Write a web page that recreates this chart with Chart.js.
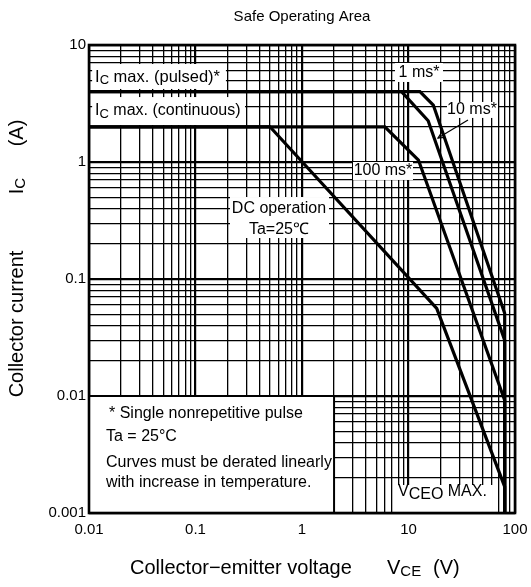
<!DOCTYPE html>
<html><head><meta charset="utf-8">
<script src="https://cdn.jsdelivr.net/npm/chart.js@4"></script>
<style>html,body{margin:0;padding:0;background:#fff;}canvas{display:block;}</style>
</head><body>
<canvas id="c" width="531" height="587"></canvas>
<script>
// ---- axis ticks ----
const voltageMajors = [0.01, 0.1, 1, 10, 100];
const voltageTickLabels = ['0.01', '0.1', '1', '10', '100'];
const currentMajors = [0.001, 0.01, 0.1, 1, 10];
const currentTickLabels = ['0.001', '0.01', '0.1', '1', '10'];
const minorMultipliers = [2, 3, 4, 5, 6, 7, 8, 9];

// ---- SOA curves (V, A) ----
const dcVoltage    = [0.01, 0.5, 18.4, 80, 80];
const dcCurrent    = [2, 2, 0.056, 0.00168, 0.001];
const ms100Voltage = [0.01, 6.0, 12.4, 80, 80];
const ms100Current = [2, 2, 1.04, 0.0092, 0.001];
const ms10Voltage  = [0.01, 8.6, 15.3, 80, 80];
const ms10Current  = [4, 4, 2.25, 0.030, 0.001];
const ms1Voltage   = [0.01, 12.8, 17.1, 80, 80];
const ms1Current   = [4, 4, 3.07, 0.051, 0.001];

const FONT = '"Liberation Sans", Arial, Helvetica, sans-serif';

function pairs(xs, ys) { return xs.map((x, i) => ({ x: x, y: ys[i] })); }
function gridValues(majors) {
  const out = [];
  majors.forEach((m, i) => {
    out.push(m);
    if (i < majors.length - 1) minorMultipliers.forEach(k => out.push(+(m * k).toPrecision(6)));
  });
  return out;
}
function majorIndex(v, majors) { return majors.findIndex(m => Math.abs(v / m - 1) < 1e-6); }

// annotations in data coordinates (V, A)
const labelBoxes = [
  { box: [0.0107, 6.88, 0.193, 4.21], lines: [{ at: [0.0114, 5.33], align: 'left', parts: [['I', 16.5, 0], ['C', 13, 3], [' max. (pulsed)*', 16.5, 0]] }] },
  { box: [0.0107, 3.59, 0.2915, 2.07], lines: [{ at: [0.0114, 2.73], align: 'left', parts: [['I', 16, 0], ['C', 13, 3], [' max. (continuous)', 16, 0]] }] },
  { box: [7.47, 7.02, 21.08, 4.83], lines: [{ at: [12.55, 5.76], align: 'center', parts: [['1 ms*', 16, 0]] }] },
  { box: [22.99, 3.26, 69.24, 2.38], lines: [{ at: [39.47, 2.78], align: 'center', parts: [['10 ms*', 16, 0]] }] },
  { box: [3.012, 1.0, 11.02, 0.702], lines: [{ at: [5.762, 0.838], align: 'center', parts: [['100 ms*', 16, 0]] }] },
  { box: [0.2108, 0.502, 1.793, 0.224], lines: [
      { at: [0.6081, 0.397], align: 'center', parts: [['DC operation', 16, 0]] },
      { at: [0.6081, 0.262], align: 'center', parts: [['Ta=25℃', 16, 0]] }] },
  { box: [0.01, 0.01, 2.0, 0.001], border: true, lines: [
      { at: [0.01541, 0.00702], align: 'left', parts: [['* Single nonrepetitive pulse', 16, 0]] },
      { at: [0.01444, 0.00446], align: 'left', parts: [['Ta = 25°C', 16, 0]] },
      { at: [0.01444, 0.002675], align: 'left', parts: [['Curves must be derated linearly', 16, 0]] },
      { at: [0.01444, 0.001805], align: 'left', parts: [['with increase in temperature.', 16, 0]] }] },
  { box: [7.47, 0.001735, 62.1, 0.00102], lines: [{ at: [7.97, 0.001512], align: 'left', parts: [['V', 16, 0], ['CEO', 16, 3], [' MAX.', 16, 0]] }] }
];
const arrow10ms = { from: [36.2, 2.286], to: [18.92, 1.604] };

function drawRich(ctx, parts, x, y, align) {
  let total = 0;
  const widths = parts.map(p => { ctx.font = p[1] + 'px ' + FONT; const w = ctx.measureText(p[0]).width; total += w; return w; });
  let cx = align === 'center' ? x - total / 2 : (align === 'right' ? x - total : x);
  ctx.textAlign = 'left';
  ctx.textBaseline = 'middle';
  parts.forEach((p, i) => { ctx.font = p[1] + 'px ' + FONT; ctx.fillText(p[0], cx, y + p[2]); cx += widths[i]; });
}

const decorPlugin = {
  id: 'decor',
  beforeDraw(chart) {
    const ctx = chart.ctx;
    ctx.save(); ctx.fillStyle = '#fff'; ctx.fillRect(0, 0, chart.width, chart.height); ctx.restore();
  },
  beforeDatasetsDraw(chart) {
    const ctx = chart.ctx, xs = chart.scales.x, ys = chart.scales.y;
    ctx.save();
    labelBoxes.forEach(b => {
      const x1 = xs.getPixelForValue(b.box[0]), y1 = ys.getPixelForValue(b.box[1]);
      const x2 = xs.getPixelForValue(b.box[2]), y2 = ys.getPixelForValue(b.box[3]);
      ctx.fillStyle = '#fff';
      ctx.fillRect(x1, y1, x2 - x1, y2 - y1);
      if (b.border) { ctx.strokeStyle = '#000'; ctx.lineWidth = 2; ctx.strokeRect(x1, y1, x2 - x1, y2 - y1); }
      ctx.fillStyle = '#000';
      b.lines.forEach(l => drawRich(ctx, l.parts, xs.getPixelForValue(l.at[0]), ys.getPixelForValue(l.at[1]), l.align));
    });
    ctx.restore();
  },
  afterDatasetsDraw(chart) {
    const ctx = chart.ctx, xs = chart.scales.x, ys = chart.scales.y, a = chart.chartArea;
    ctx.save();
    const fx = xs.getPixelForValue(arrow10ms.from[0]), fy = ys.getPixelForValue(arrow10ms.from[1]);
    const tx = xs.getPixelForValue(arrow10ms.to[0]), ty = ys.getPixelForValue(arrow10ms.to[1]);
    ctx.strokeStyle = '#000'; ctx.lineWidth = 1.2;
    ctx.beginPath(); ctx.moveTo(fx, fy); ctx.lineTo(tx, ty); ctx.stroke();
    const ang = Math.atan2(ty - fy, tx - fx), L = 7;
    ctx.beginPath();
    ctx.moveTo(tx - L * Math.cos(ang - 0.45), ty - L * Math.sin(ang - 0.45));
    ctx.lineTo(tx, ty);
    ctx.lineTo(tx - L * Math.cos(ang + 0.45), ty - L * Math.sin(ang + 0.45));
    ctx.stroke();
    ctx.lineWidth = 2.6;
    ctx.strokeRect(a.left, a.top, a.right - a.left, a.bottom - a.top);
    ctx.restore();
  },
  afterDraw(chart) {
    const ctx = chart.ctx, a = chart.chartArea;
    ctx.save();
    ctx.fillStyle = '#000';
    drawRich(ctx, [['Safe Operating Area', 15, 0]], (a.left + a.right) / 2, 17, 'center');
    drawRich(ctx, [['Collector\u2212emitter voltage', 20, 0]], 130, 568, 'left');
    drawRich(ctx, [['V', 20, 0], ['CE', 15, 4]], 387, 568, 'left');
    drawRich(ctx, [['(V)', 20, 0]], 433, 568, 'left');
    const yPieces = [
      { parts: [['Collector current', 20, 0]], cy: 324 },
      { parts: [['I', 20, 0], ['C', 15, 4]], cy: 186 },
      { parts: [['(A)', 20, 0]], cy: 133 }
    ];
    yPieces.forEach(p => {
      ctx.save(); ctx.translate(17, p.cy); ctx.rotate(-Math.PI / 2);
      drawRich(ctx, p.parts, 0, 0, 'center');
      ctx.restore();
    });
    ctx.restore();
  }
};

function lineSet(label, xs, ys) {
  return { label: label, data: pairs(xs, ys), borderColor: '#000', borderWidth: 3.2, pointRadius: 0, fill: false, tension: 0, borderJoinStyle: 'miter' };
}

new Chart(document.getElementById('c'), {
  type: 'line',
  data: {
    datasets: [
      lineSet('DC operation', dcVoltage, dcCurrent),
      lineSet('100 ms', ms100Voltage, ms100Current),
      lineSet('10 ms', ms10Voltage, ms10Current),
      lineSet('1 ms', ms1Voltage, ms1Current)
    ]
  },
  options: {
    responsive: false,
    animation: false,
    devicePixelRatio: 1,
    layout: { padding: { top: 45, right: 16, left: 0, bottom: 0 } },
    plugins: { legend: { display: false }, tooltip: { enabled: false }, title: { display: false } },
    scales: {
      x: {
        type: 'logarithmic', min: 0.01, max: 100,
        afterBuildTicks: s => { s.ticks = gridValues(voltageMajors).map(v => ({ value: v, isMaj: majorIndex(v, voltageMajors) >= 0 })); },
        afterFit: s => { s.height = 74; s.paddingLeft = 0; s.paddingRight = 0; },
        border: { display: false },
        grid: { drawTicks: false, color: '#000', lineWidth: c => (c.tick && c.tick.isMaj) ? 2.2 : 1.3 },
        ticks: {
          autoSkip: false, maxRotation: 0, padding: 8, color: '#000', font: { family: FONT, size: 15 },
          callback: v => { const i = majorIndex(v, voltageMajors); return i >= 0 ? voltageTickLabels[i] : ''; }
        }
      },
      y: {
        type: 'logarithmic', min: 0.001, max: 10,
        afterBuildTicks: s => { s.ticks = gridValues(currentMajors).map(v => ({ value: v, isMaj: majorIndex(v, currentMajors) >= 0 })); },
        afterFit: s => { s.width = 89; s.paddingTop = 0; s.paddingBottom = 0; },
        border: { display: false },
        grid: { drawTicks: false, color: '#000', lineWidth: c => (c.tick && c.tick.isMaj) ? 2.2 : 1.3 },
        ticks: {
          autoSkip: false, padding: 3, color: '#000', font: { family: FONT, size: 15 },
          callback: v => { const i = majorIndex(v, currentMajors); return i >= 0 ? currentTickLabels[i] : ''; }
        }
      }
    }
  },
  plugins: [decorPlugin]
});
</script>
</body></html>
